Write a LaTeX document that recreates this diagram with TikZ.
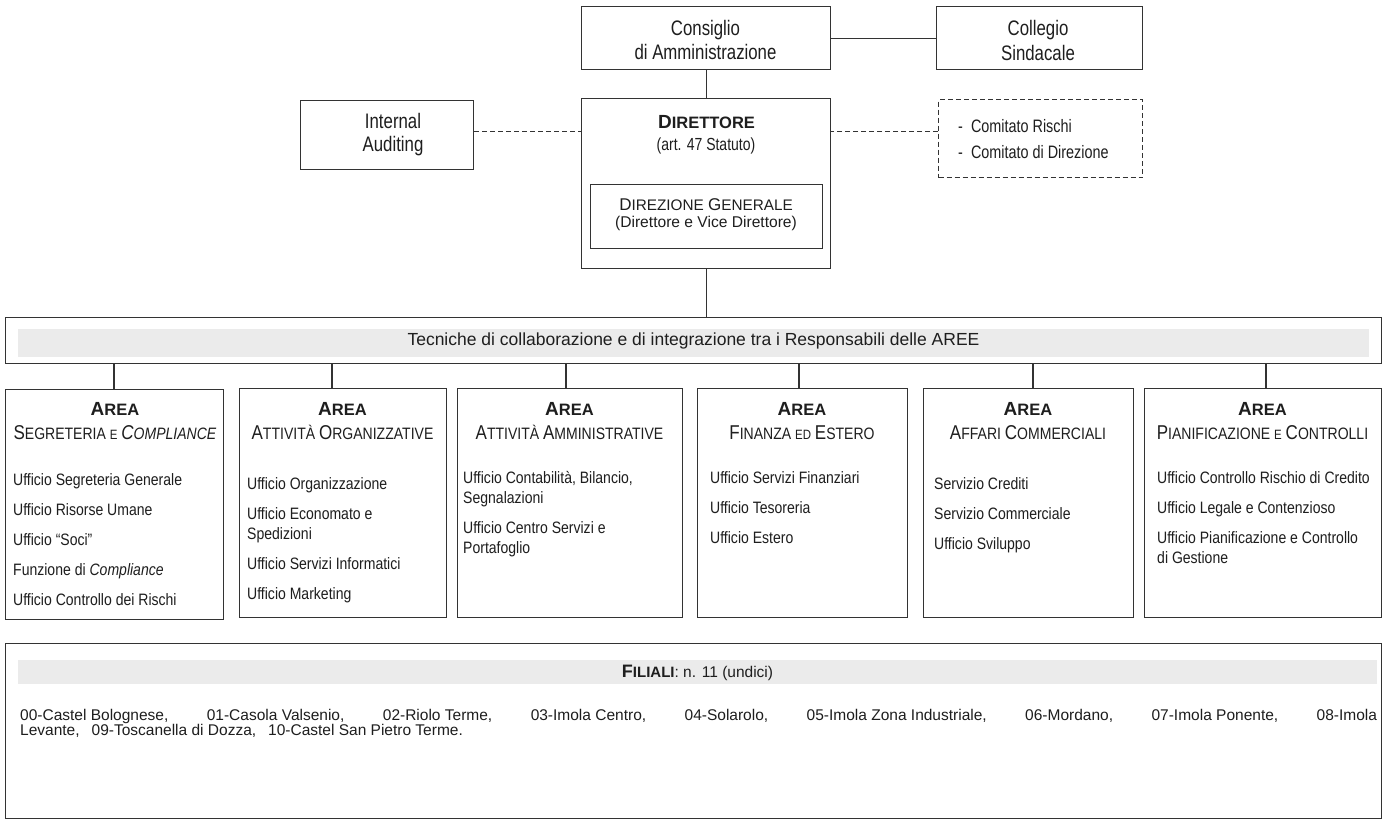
\documentclass[tikz,border=0pt]{standalone}
\usepackage{fontspec}
\setmainfont{Liberation Sans}
\newfontfamily\condA{Liberation Sans}[FakeStretch=0.8]
\newfontfamily\condB{Liberation Sans}[FakeStretch=0.85]
\definecolor{ln}{HTML}{333333}
\definecolor{bandc}{HTML}{EBEBEB}
\definecolor{tx}{HTML}{1E1E1E}
\newcommand\fs[1]{\fontsize{#1}{#1}\selectfont}
\newcommand\scA[1]{{\fs{20}#1}}
\newcommand\scB[1]{{\fs{16.5}#1}}
\newcommand\scC[1]{{\fs{13.5}#1}}
\tikzset{
  box/.style={draw=ln, line width=1.4pt, inner sep=0pt, anchor=north west},
  dbox/.style={box, line width=1.2pt, dash pattern=on 5pt off 3pt},
  bandbox/.style={fill=bandc, draw=none, inner sep=0pt, anchor=north west},
  conn/.style={draw=ln, line width=1.4pt},
  dconn/.style={draw=ln, line width=1.2pt, dash pattern=on 5pt off 3pt},
  txt/.style={inner sep=0pt, anchor=base, text=tx},
  txtl/.style={inner sep=0pt, anchor=base west, text=tx},
  topf/.style={font=\condA\fs{21}},
  itemf/.style={txtl, font=\condB\fs{16.5}},
  subf/.style={txt, font=\condB\fs{16.5}},
  areaf/.style={txt, font=\bfseries\fs{16.5}},
}
\begin{document}
\begin{tikzpicture}[x=1pt, y=-1pt]
\useasboundingbox[fill=white] (0,0) rectangle (1383,820);

% ---------- top level ----------
\node[box, minimum width=249pt, minimum height=63pt] (cons) at (581,6) {};
\node[box, minimum width=206pt, minimum height=63pt] (coll) at (936,6) {};
\node[box, minimum width=173pt, minimum height=69pt] (intaud) at (300,100) {};
\node[box, minimum width=249pt, minimum height=170pt] (dir) at (581,98) {};
\node[box, minimum width=232pt, minimum height=64pt] (dg) at (590,184) {};
\node[dbox, minimum width=204pt, minimum height=78pt] (com) at (938,99) {};

\node[txt, topf] (consA) at (705.5,35.5) {Consiglio};
\node[txt, topf] (consB) at (705.5,59.5) {di Amministrazione};
\node[txt, topf] (collA) at (1038,35.5) {Collegio};
\node[txt, topf] (collB) at (1038,60.5) {Sindacale};
\node[txt, topf] (intA) at (393,128.5) {Internal};
\node[txt, topf] (intB) at (393,151.5) {Auditing};
\node[txtl, font=\condA\fs{18}] (comA) at (958,132.4) {-\hspace{8pt}Comitato Rischi};
\node[txtl, font=\condA\fs{18}] (comB) at (958,158.4) {-\hspace{8pt}Comitato di Direzione};
\node[txt, font=\bfseries] (dirA) at (706.5,128.6) {{\fs{19}D}{\fs{16.5}IRETTORE}};
\node[txt, font=\condA\fs{17.5}] (dirB) at (706,150.3) {(art. 47 Statuto)};
\node[txt] (dgA) at (706,210.2) {{\fs{17}D}{\fs{15.3}IREZIONE }{\fs{17}G}{\fs{15.3}ENERALE}};
\node[txt, font=\fs{15.6}] (dgB) at (706,227.6) {(Direttore e Vice Direttore)};

\draw[conn] (cons.east) -- (coll.west);
\draw[conn] (cons.south) -- (dir.north);
\draw[dconn] ([yshift=3.5pt]intaud.east) -- ([yshift=3.5pt]intaud.east -| dir.west);
\draw[dconn] ([yshift=7pt]com.west) -- ([yshift=7pt]com.west -| dir.east);

% ---------- Tecniche ----------
\node[box, minimum width=1376pt, minimum height=46pt] (tec) at (5,317) {};
\node[bandbox, minimum width=1351pt, minimum height=28pt] (tecband) at (18,329) {};
\node[txt, font=\fs{17.5}] (tecT) at (693.5,345.8) {Tecniche di collaborazione e di integrazione tra i Responsabili delle AREE};
\draw[conn] (dir.south) -- (dir.south |- tec.north);

% ---------- Areas ----------
\node[box, minimum width=218pt, minimum height=230pt] (a1) at (5,389) {};
\node[box, minimum width=207pt, minimum height=229pt] (a2) at (239,388) {};
\node[box, minimum width=225pt, minimum height=229pt] (a3) at (457,388) {};
\node[box, minimum width=210pt, minimum height=229pt] (a4) at (697,388) {};
\node[box, minimum width=210pt, minimum height=229pt] (a5) at (923,388) {};
\node[box, minimum width=237pt, minimum height=229pt] (a6) at (1144,388) {};

\coordinate (c1) at (114,363);
\coordinate (c2) at (332,363);
\coordinate (c3) at (566,363);
\coordinate (c4) at (799,363);
\coordinate (c5) at (1033,363);
\coordinate (c6) at (1266,363);
\foreach \i in {1,...,6}{\draw[conn] (c\i) -- (c\i |- a\i.north);}

% titles
\node[areaf] (a1t) at (115,415) {{\fs{19}A}REA};
\node[areaf] (a2t) at (342.5,415) {{\fs{19}A}REA};
\node[areaf] (a3t) at (569.5,415) {{\fs{19}A}REA};
\node[areaf] (a4t) at (802,415) {{\fs{19}A}REA};
\node[areaf] (a5t) at (1028,415) {{\fs{19}A}REA};
\node[areaf] (a6t) at (1262.5,415) {{\fs{19}A}REA};

\node[subf] (a1s) at (115,439.3) {\scA{S}EGRETERIA \scC{E} \textit{\scA{C}OMPLIANCE}};
\node[subf] (a2s) at (342.5,439.3) {\scA{A}TTIVITÀ \scA{O}RGANIZZATIVE};
\node[subf] (a3s) at (569.5,439.3) {\scA{A}TTIVITÀ \scA{A}MMINISTRATIVE};
\node[subf] (a4s) at (802,439.3) {\scA{F}INANZA \scC{ED} \scA{E}STERO};
\node[subf] (a5s) at (1028,439.3) {\scA{A}FFARI \scA{C}OMMERCIALI};
\node[subf] (a6s) at (1262.5,439.3) {\scA{P}IANIFICAZIONE \scC{E} \scA{C}ONTROLLI};

% items area 1
\node[itemf] (a1i1) at (13,485) {Ufficio Segreteria Generale};
\node[itemf] (a1i2) at (13,515) {Ufficio Risorse Umane};
\node[itemf] (a1i3) at (13,545) {Ufficio “Soci”};
\node[itemf] (a1i4) at (13,575) {Funzione di \textit{Compliance}};
\node[itemf] (a1i5) at (13,605) {Ufficio Controllo dei Rischi};
% area 2
\node[itemf] (a2i1) at (247,489) {Ufficio Organizzazione};
\node[itemf] (a2i2) at (247,519) {Ufficio Economato e};
\node[itemf] (a2i2b) at (247,539) {Spedizioni};
\node[itemf] (a2i3) at (247,569) {Ufficio Servizi Informatici};
\node[itemf] (a2i4) at (247,599) {Ufficio Marketing};
% area 3
\node[itemf] (a3i1) at (463,483) {Ufficio Contabilità, Bilancio,};
\node[itemf] (a3i1b) at (463,503) {Segnalazioni};
\node[itemf] (a3i2) at (463,533) {Ufficio Centro Servizi e};
\node[itemf] (a3i2b) at (463,553) {Portafoglio};
% area 4
\node[itemf] (a4i1) at (710,483) {Ufficio Servizi Finanziari};
\node[itemf] (a4i2) at (710,513) {Ufficio Tesoreria};
\node[itemf] (a4i3) at (710,543) {Ufficio Estero};
% area 5
\node[itemf] (a5i1) at (934,489) {Servizio Crediti};
\node[itemf] (a5i2) at (934,519) {Servizio Commerciale};
\node[itemf] (a5i3) at (934,549) {Ufficio Sviluppo};
% area 6
\node[itemf] (a6i1) at (1157,483) {Ufficio Controllo Rischio di Credito};
\node[itemf] (a6i2) at (1157,513) {Ufficio Legale e Contenzioso};
\node[itemf] (a6i3) at (1157,543) {Ufficio Pianificazione e Controllo};
\node[itemf] (a6i3b) at (1157,563) {di Gestione};

% ---------- Filiali ----------
\node[box, minimum width=1376pt, minimum height=175pt] (fil) at (5,643) {};
\node[bandbox, minimum width=1359pt, minimum height=24pt] (filband) at (18,660) {};
\node[txt, font=\fs{15.5}] (filT) at (697.5,677.5) {{\bfseries{\fs{18}F}{\fs{15}ILIALI}}: n. 11 (undici)};
\node[txtl, font=\fs{15.5}] (filL1) at (20,720.5) {\makebox[1357pt][l]{00-Castel Bolognese,\hfill 01-Casola Valsenio,\hfill 02-Riolo Terme,\hfill 03-Imola Centro,\hfill 04-Solarolo,\hfill 05-Imola Zona Industriale,\hfill 06-Mordano,\hfill 07-Imola Ponente,\hfill 08-Imola}};
\node[txtl, font=\fs{15.5}] (filL2) at (20,735.5) {Levante,\hspace{12pt}09-Toscanella di Dozza,\hspace{12pt}10-Castel San Pietro Terme.};
\end{tikzpicture}
\end{document}
